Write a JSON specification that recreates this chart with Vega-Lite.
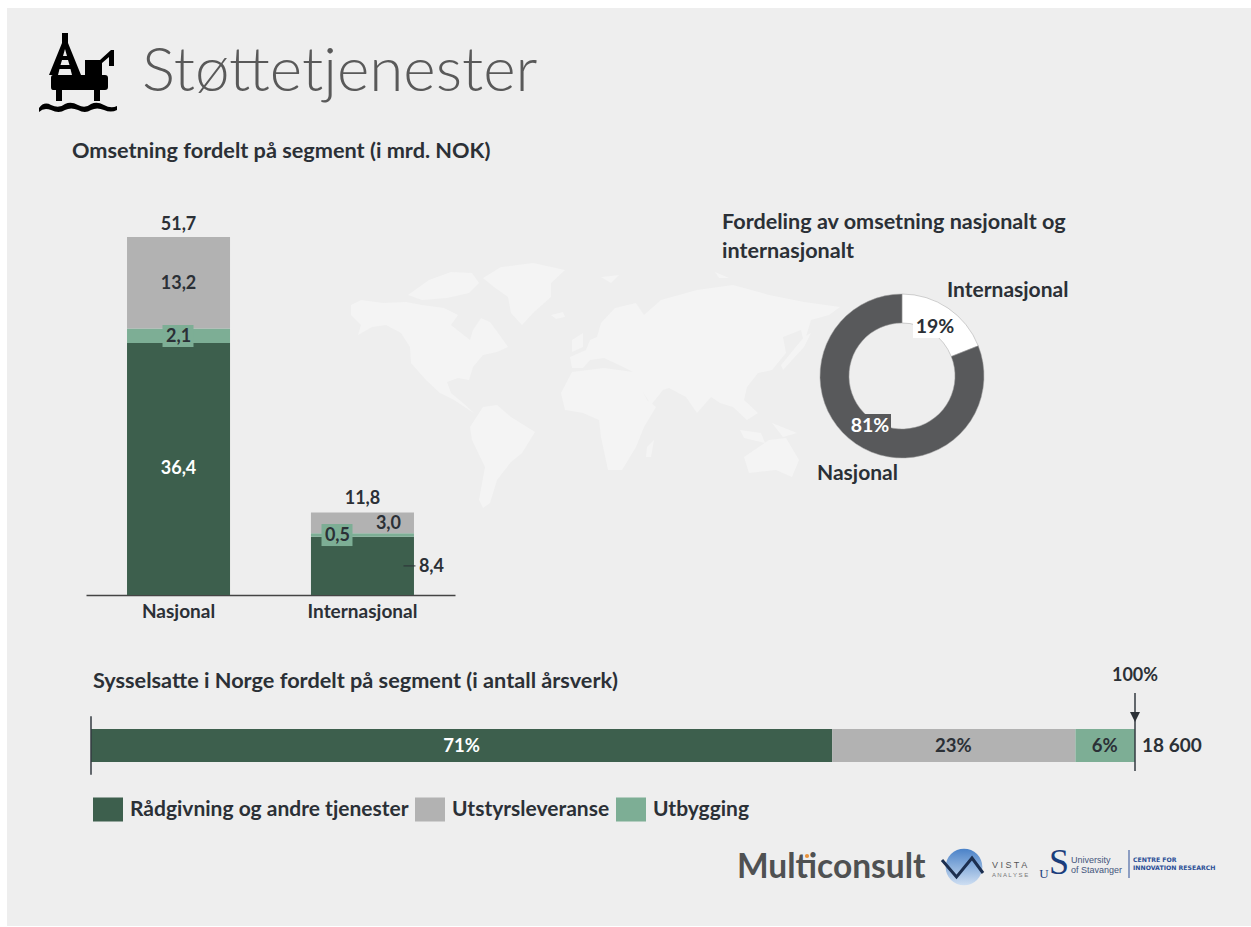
{
"$schema":"https://vega.github.io/schema/vega-lite/v6.json",
"width":1244,"height":918,
"autosize":{"type":"none"},
"padding":{"left":7,"top":8,"right":0,"bottom":1},
"background":"#ffffff",
"config":{"view":{"fill":"#eeeeee","stroke":null},"text":{"font":"Lato","fontWeight":"bold","fontSize":18,"fill":"#2b3036","baseline":"middle"},"point":{"opacity":1,"filled":true,"strokeWidth":0}},
"resolve":{"scale":{"x":"independent","y":"independent","theta":"independent","fill":"independent"}},
"layer":[
{"data":{"values":[{"name":"Verdenskart"}]},
 "mark":{"type":"point","filled":true,"opacity":1,"size":4,"color":"#f4f4f4","shape":"M11,65L21,60L43,63L66,62L82,65L104,68L118,75L111,85L121,93L130,100L133,90L141,78L150,82L161,97L168,107L157,112L143,115L133,127L129,140L118,138L107,142L111,153L123,163L134,173L129,170L114,160L100,153L86,140L71,123L70,107L61,93L46,85L32,87L18,95L21,85L11,75ZM68,55L89,40L111,32L132,33L139,43L129,53L107,58L82,60ZM143,38L161,27L193,23L225,30L211,43L211,57L193,73L182,85L171,73L168,57L154,47ZM211,75L223,72L225,77L216,79ZM130,187L143,167L157,165L171,177L195,192L182,213L171,222L157,240L150,263L143,268L139,260L145,227L132,200ZM232,128L230,117L246,110L250,100L257,97L261,83L275,68L296,63L304,75L321,60L357,50L393,45L429,55L464,62L500,67L489,75L471,80L464,103L461,90L443,97L446,113L432,130L418,133L407,147L404,160L418,173L407,180L393,167L380,163L371,157L357,173L346,157L329,148L323,150L311,165L300,147L293,132L279,125L264,118L250,120L243,128ZM221,153L232,132L264,128L293,132L307,160L316,167L304,187L296,207L282,230L268,230L261,197L259,180L243,173L225,170ZM307,207L314,200L311,217L306,217ZM404,217L429,200L446,198L459,220L452,237L436,230L409,233ZM400,190L421,193L425,203L404,198ZM432,183L457,193L443,197ZM464,97L471,93L464,107L443,130L441,125ZM232,100L243,93L243,107L232,112ZM261,37L279,35L271,43ZM375,32L389,38L379,38Z"},
 "encoding":{"x":{"field":"name","type":"nominal","axis":null,"scale":{"type":"point","range":[333,333]}},"y":{"field":"name","type":"nominal","axis":null,"scale":{"type":"point","range":[232,232]}}}},
{"data":{"values":[{"name":"Plattform"}]},
 "mark":{"type":"point","filled":true,"opacity":1,"size":4,"color":"#000000","shape":"M62,33H68V43L81,75H72L70.5,69H59.5L58,75H49L62,43ZM65,49L63,56H67ZM62,60L60.5,65H69.5L68,60ZM85,60H100L111,50H114V66H109V57L102,63V75H85ZM53,75H105Q108,75 108,78V87Q108,90 105,90H53Q51,90 51,87V78Q51,75 53,75ZM56,90H62V101H56ZM94,90H100V101H94ZM39,108Q44,101 51,105Q59,109 65,104Q71,101 78,105Q85,109 91,104Q97,101 104,105Q111,109 117,106V110Q111,113 104,110Q97,107 91,110Q85,114 78,110Q71,107 65,110Q59,114 51,110Q44,107 39,112Z"},
 "encoding":{"x":{"field":"name","type":"nominal","axis":null,"scale":{"type":"point","range":[-7,-7]}},"y":{"field":"name","type":"nominal","axis":null,"scale":{"type":"point","range":[-8,-8]}}}},
{"data":{"values":[{"label":"Støttetjenester"}]},
 "mark":{"type":"text","fontSize":62,"fontWeight":300,"fill":"#595959","align":"left"},
 "encoding":{"text":{"field":"label"},"x":{"field":"label","type":"nominal","axis":null,"scale":{"type":"point","range":[135,135]}},"y":{"field":"label","type":"nominal","axis":null,"scale":{"type":"point","range":[64,64]}}}},
{"data":{"values":[{"label":"Omsetning fordelt på segment (i mrd. NOK)"}]},
 "mark":{"type":"text","fontSize":21.7,"align":"left"},
 "encoding":{"text":{"field":"label"},"x":{"field":"label","type":"nominal","axis":null,"scale":{"type":"point","range":[65,65]}},"y":{"field":"label","type":"nominal","axis":null,"scale":{"type":"point","range":[143,143]}}}},
{"data":{"values":[{"group":"Nasjonal","segment":"Rådgivning og andre tjenester","value":36.4,"rank":1},{"group":"Nasjonal","segment":"Utbygging","value":2.1,"rank":2},{"group":"Nasjonal","segment":"Utstyrsleveranse","value":13.2,"rank":3},{"group":"Internasjonal","segment":"Rådgivning og andre tjenester","value":8.4,"rank":1},{"group":"Internasjonal","segment":"Utbygging","value":0.5,"rank":2},{"group":"Internasjonal","segment":"Utstyrsleveranse","value":3.0,"rank":3}]},
 "mark":{"type":"bar"},
 "encoding":{
  "x":{"field":"group","type":"nominal","sort":null,"scale":{"type":"band","domain":["Nasjonal","Internasjonal"],"range":[79,448],"paddingInner":0.44,"paddingOuter":0.223},"axis":{"title":null,"orient":"bottom","offset":-331,"ticks":false,"grid":false,"domainColor":"#444444","domainWidth":1.5,"labelAngle":0,"labelFont":"Lato","labelFontWeight":"bold","labelFontSize":19,"labelColor":"#2b3036","labelPadding":7}},
  "y":{"field":"value","type":"quantitative","stack":"zero","axis":null,"scale":{"domain":[0,51.7],"range":[587,229],"nice":false}},
  "order":{"field":"rank","type":"quantitative"},
  "color":{"field":"segment","type":"nominal","scale":{"domain":["Rådgivning og andre tjenester","Utstyrsleveranse","Utbygging"],"range":["#3d5f4d","#b2b2b2","#7dae95"]},
   "legend":{"title":null,"orient":"none","legendX":86,"legendY":786.5,"direction":"horizontal","columns":3,"symbolType":"M-1,-0.8H1V0.8H-1Z","symbolSize":900,"symbolStrokeWidth":0,"labelFont":"Lato","labelFontSize":21,"labelFontWeight":"bold","labelColor":"#2b3036","labelOffset":7,"columnPadding":6,"labelLimit":400,"padding":0}}}},
{"data":{"values":[{"group":"Nasjonal","pos":37.4},{"group":"Internasjonal","pos":8.66}]},
 "mark":{"type":"point","filled":true,"opacity":1,"size":4,"color":"#7dae95","shape":"M-15.5,-11H15.5V11H-15.5Z"},
 "encoding":{
  "x":{"field":"group","type":"nominal","axis":null,"scale":{"type":"point","domain":["Nasjonal","Internasjonal"],"range":[171,330],"padding":0}},
  "y":{"field":"pos","type":"quantitative","axis":null,"scale":{"domain":[0,51.7],"range":[587,229],"nice":false}}}},
{"data":{"values":[{"group":"Nasjonal","label":"51,7","pos":53.4},{"group":"Nasjonal","label":"13,2","pos":44.9},{"group":"Nasjonal","label":"2,1","pos":37.26},{"group":"Internasjonal","label":"11,8","pos":13.86}]},
 "mark":{"type":"text"},
 "encoding":{"text":{"field":"label"},
  "x":{"field":"group","type":"nominal","axis":null,"scale":{"type":"band","domain":["Nasjonal","Internasjonal"],"range":[79,448],"paddingInner":0.44,"paddingOuter":0.223}},
  "y":{"field":"pos","type":"quantitative","axis":null,"scale":{"domain":[0,51.7],"range":[587,229],"nice":false}}}},
{"data":{"values":[{"group":"Nasjonal","label":"36,4","pos":18.2}]},
 "mark":{"type":"text","fill":"#ffffff"},
 "encoding":{"text":{"field":"label"},
  "x":{"field":"group","type":"nominal","axis":null,"scale":{"type":"band","domain":["Nasjonal","Internasjonal"],"range":[79,448],"paddingInner":0.44,"paddingOuter":0.223}},
  "y":{"field":"pos","type":"quantitative","axis":null,"scale":{"domain":[0,51.7],"range":[587,229],"nice":false}}}},
{"data":{"values":[{"group":"Internasjonal","label":"3,0","pos":10.2}]},
 "mark":{"type":"text","dx":26},
 "encoding":{"text":{"field":"label"},
  "x":{"field":"group","type":"nominal","axis":null,"scale":{"type":"band","domain":["Nasjonal","Internasjonal"],"range":[79,448],"paddingInner":0.44,"paddingOuter":0.223}},
  "y":{"field":"pos","type":"quantitative","axis":null,"scale":{"domain":[0,51.7],"range":[587,229],"nice":false}}}},
{"data":{"values":[{"group":"Internasjonal","label":"0,5","pos":8.52}]},
 "mark":{"type":"text","dx":-25},
 "encoding":{"text":{"field":"label"},
  "x":{"field":"group","type":"nominal","axis":null,"scale":{"type":"band","domain":["Nasjonal","Internasjonal"],"range":[79,448],"paddingInner":0.44,"paddingOuter":0.223}},
  "y":{"field":"pos","type":"quantitative","axis":null,"scale":{"domain":[0,51.7],"range":[587,229],"nice":false}}}},
{"data":{"values":[{"group":"Internasjonal","label":"8,4","pos":4.05}]},
 "mark":{"type":"text","dx":69},
 "encoding":{"text":{"field":"label"},
  "x":{"field":"group","type":"nominal","axis":null,"scale":{"type":"band","domain":["Nasjonal","Internasjonal"],"range":[79,448],"paddingInner":0.44,"paddingOuter":0.223}},
  "y":{"field":"pos","type":"quantitative","axis":null,"scale":{"domain":[0,51.7],"range":[587,229],"nice":false}}}},
{"data":{"values":[{"group":"Internasjonal","pos":4.2}]},
 "mark":{"type":"tick","orient":"horizontal","size":12,"thickness":1,"xOffset":47,"color":"#2b3036","opacity":1},
 "encoding":{
  "x":{"field":"group","type":"nominal","axis":null,"scale":{"type":"band","domain":["Nasjonal","Internasjonal"],"range":[79,448],"paddingInner":0.44,"paddingOuter":0.223}},
  "y":{"field":"pos","type":"quantitative","axis":null,"scale":{"domain":[0,51.7],"range":[587,229],"nice":false}}}},
{"data":{"values":[{"label":"Fordeling av omsetning nasjonalt og"},{"label":"internasjonalt"}]},
 "mark":{"type":"text","fontSize":21.6,"align":"left"},
 "encoding":{"text":{"field":"label"},"x":{"field":"label","type":"nominal","sort":null,"axis":null,"scale":{"type":"point","range":[715,715],"padding":0}},"y":{"field":"label","type":"nominal","sort":null,"axis":null,"scale":{"type":"point","domain":["Fordeling av omsetning nasjonalt og","internasjonalt"],"range":[214.5,243.5],"padding":0}}}},
{"data":{"values":[{"chart":"Fordeling","segment":"Internasjonal","share":19,"rank":1},{"chart":"Fordeling","segment":"Nasjonal","share":81,"rank":2}]},
 "mark":{"type":"arc","radius":82,"radius2":53,"stroke":"#a0a0a0","strokeWidth":0.5},
 "encoding":{
  "theta":{"field":"share","type":"quantitative","stack":"zero"},
  "order":{"field":"rank","type":"quantitative"},
  "fill":{"field":"segment","type":"nominal","legend":null,"scale":{"domain":["Internasjonal","Nasjonal"],"range":["#ffffff","#58595b"]}},
  "x":{"field":"chart","type":"nominal","axis":null,"scale":{"type":"point","range":[895,895]}},
  "y":{"field":"chart","type":"nominal","axis":null,"scale":{"type":"point","range":[368,368]}}}},
{"data":{"values":[{"label":"19%"},{"label":"81%"}]},
 "mark":{"type":"point","filled":true,"opacity":1,"size":4,"shape":"M-20,-10H20V10H-20Z"},
 "encoding":{
  "fill":{"field":"label","type":"nominal","legend":null,"scale":{"domain":["19%","81%"],"range":["#ffffff","#58595b"]}},
  "x":{"field":"label","type":"nominal","axis":null,"scale":{"type":"point","domain":["19%","81%"],"range":[926,864],"padding":0}},
  "y":{"field":"label","type":"nominal","axis":null,"scale":{"type":"point","domain":["19%","81%"],"range":[320,416],"padding":0}}}},
{"data":{"values":[{"label":"19%"},{"label":"81%"}]},
 "mark":{"type":"text","fontSize":19.5},
 "encoding":{"text":{"field":"label"},
  "fill":{"field":"label","type":"nominal","legend":null,"scale":{"domain":["19%","81%"],"range":["#2b3036","#ffffff"]}},
  "x":{"field":"label","type":"nominal","axis":null,"scale":{"type":"point","domain":["19%","81%"],"range":[928,863],"padding":0}},
  "y":{"field":"label","type":"nominal","axis":null,"scale":{"type":"point","domain":["19%","81%"],"range":[319,418],"padding":0}}}},
{"data":{"values":[{"label":"Internasjonal"}]},
 "mark":{"type":"text","fontSize":21,"align":"left"},
 "encoding":{"text":{"field":"label"},"x":{"field":"label","type":"nominal","axis":null,"scale":{"type":"point","range":[940,940]}},"y":{"field":"label","type":"nominal","axis":null,"scale":{"type":"point","range":[283,283]}}}},
{"data":{"values":[{"label":"Nasjonal"}]},
 "mark":{"type":"text","fontSize":21,"align":"left"},
 "encoding":{"text":{"field":"label"},"x":{"field":"label","type":"nominal","axis":null,"scale":{"type":"point","range":[810,810]}},"y":{"field":"label","type":"nominal","axis":null,"scale":{"type":"point","range":[466,466]}}}},
{"data":{"values":[{"label":"Sysselsatte i Norge fordelt på segment (i antall årsverk)"}]},
 "mark":{"type":"text","fontSize":21.7,"align":"left"},
 "encoding":{"text":{"field":"label"},"x":{"field":"label","type":"nominal","axis":null,"scale":{"type":"point","range":[86,86]}},"y":{"field":"label","type":"nominal","axis":null,"scale":{"type":"point","range":[672.5,672.5]}}}},
{"data":{"values":[{"row":"Sysselsatte","segment":"Rådgivning og andre tjenester","value":71,"rank":1},{"row":"Sysselsatte","segment":"Utstyrsleveranse","value":23.3,"rank":2},{"row":"Sysselsatte","segment":"Utbygging","value":5.7,"rank":3}]},
 "mark":{"type":"bar"},
 "encoding":{
  "x":{"field":"value","type":"quantitative","stack":"zero","axis":null,"scale":{"domain":[0,100],"range":[84,1128],"nice":false}},
  "y":{"field":"row","type":"nominal","axis":null,"scale":{"type":"band","range":[721,754],"paddingInner":0,"paddingOuter":0}},
  "order":{"field":"rank","type":"quantitative"},
  "color":{"field":"segment","type":"nominal","scale":{"domain":["Rådgivning og andre tjenester","Utstyrsleveranse","Utbygging"],"range":["#3d5f4d","#b2b2b2","#7dae95"]},
   "legend":{"title":null,"orient":"none","legendX":86,"legendY":786.5,"direction":"horizontal","columns":3,"symbolType":"M-1,-0.8H1V0.8H-1Z","symbolSize":900,"symbolStrokeWidth":0,"labelFont":"Lato","labelFontSize":21,"labelFontWeight":"bold","labelColor":"#2b3036","labelOffset":7,"columnPadding":6,"labelLimit":400,"padding":0}}}},
{"data":{"values":[{"label":"23%","pos":82.6},{"label":"6%","pos":97.1}]},
 "mark":{"type":"text","fontSize":18.5},
 "encoding":{"text":{"field":"label"},
  "x":{"field":"pos","type":"quantitative","axis":null,"scale":{"domain":[0,100],"range":[84,1128],"nice":false}},
  "y":{"datum":0.5,"type":"quantitative","axis":null,"scale":{"domain":[0,1],"range":[754,721],"nice":false}}}},
{"data":{"values":[{"label":"71%","pos":35.5}]},
 "mark":{"type":"text","fill":"#ffffff","fontSize":18.5},
 "encoding":{"text":{"field":"label"},
  "x":{"field":"pos","type":"quantitative","axis":null,"scale":{"domain":[0,100],"range":[84,1128],"nice":false}},
  "y":{"datum":0.5,"type":"quantitative","axis":null,"scale":{"domain":[0,1],"range":[754,721],"nice":false}}}},
{"data":{"values":[{"at":0,"from":-0.39,"to":1.39},{"at":100,"from":-0.27,"to":2.09}]},
 "mark":{"type":"rule","color":"#333a40","strokeWidth":1.5},
 "encoding":{
  "x":{"field":"at","type":"quantitative","axis":null,"scale":{"domain":[0,100],"range":[84,1128],"nice":false}},
  "y":{"field":"from","type":"quantitative","axis":null,"scale":{"domain":[0,1],"range":[754,721],"nice":false,"zero":false}},
  "y2":{"field":"to"}}},
{"data":{"values":[{"at":100,"level":1.36}]},
 "mark":{"type":"point","filled":true,"opacity":1,"size":4,"color":"#2b3036","shape":"M-5,-5H5L0,5Z"},
 "encoding":{
  "x":{"field":"at","type":"quantitative","axis":null,"scale":{"domain":[0,100],"range":[84,1128],"nice":false}},
  "y":{"field":"level","type":"quantitative","axis":null,"scale":{"domain":[0,1],"range":[754,721],"nice":false,"zero":false}}}},
{"data":{"values":[{"label":"100%","at":100,"level":2.61}]},
 "mark":{"type":"text"},
 "encoding":{"text":{"field":"label"},
  "x":{"field":"at","type":"quantitative","axis":null,"scale":{"domain":[0,100],"range":[84,1128],"nice":false}},
  "y":{"field":"level","type":"quantitative","axis":null,"scale":{"domain":[0,1],"range":[754,721],"nice":false,"zero":false}}}},
{"data":{"values":[{"label":"18 600","at":100,"level":0.5}]},
 "mark":{"type":"text","align":"left","dx":7,"fontSize":19},
 "encoding":{"text":{"field":"label"},
  "x":{"field":"at","type":"quantitative","axis":null,"scale":{"domain":[0,100],"range":[84,1128],"nice":false}},
  "y":{"field":"level","type":"quantitative","axis":null,"scale":{"domain":[0,1],"range":[754,721],"nice":false,"zero":false}}}},
{"data":{"values":[{"label":"Multiconsult"}]},
 "mark":{"type":"text","fontSize":33.5,"fontWeight":"bold","fill":"#4f5152","align":"left"},
 "encoding":{"text":{"field":"label"},"x":{"field":"label","type":"nominal","axis":null,"scale":{"type":"point","range":[730,730]}},"y":{"field":"label","type":"nominal","axis":null,"scale":{"type":"point","range":[860,860]}}}},
{"data":{"values":[{"name":"Multiconsult-prikk"}]},
 "mark":{"type":"point","filled":true,"opacity":1,"size":18,"shape":"circle","color":"#e8913a"},
 "encoding":{"x":{"field":"name","type":"nominal","axis":null,"scale":{"type":"point","range":[800,800]}},"y":{"field":"name","type":"nominal","axis":null,"scale":{"type":"point","range":[848,848]}}}},
{"data":{"values":[{"name":"Vista-sirkel"}]},
 "mark":{"type":"point","filled":true,"opacity":1,"size":1350,"shape":"circle","fill":{"gradient":"linear","x1":0,"y1":0,"x2":0,"y2":1,"stops":[{"offset":0,"color":"#4a82c8"},{"offset":1,"color":"#cfdff2"}]}},
 "encoding":{"x":{"field":"name","type":"nominal","axis":null,"scale":{"type":"point","range":[957,957]}},"y":{"field":"name","type":"nominal","axis":null,"scale":{"type":"point","range":[859,859]}}}},
{"data":{"values":[{"name":"Vista-VA"}]},
 "mark":{"type":"point","filled":false,"opacity":1,"size":4,"stroke":"#1c2f4f","strokeWidth":3,"shape":"M942,860L956.5,877L972,858L983,873"},
 "encoding":{"x":{"field":"name","type":"nominal","axis":null,"scale":{"type":"point","range":[-7,-7]}},"y":{"field":"name","type":"nominal","axis":null,"scale":{"type":"point","range":[-8,-8]}}}},
{"data":{"values":[{"label":"V I S T A"}]},
 "mark":{"type":"text","fontSize":9,"font":"Liberation Sans","fontWeight":"normal","fill":"#555555","align":"left"},
 "encoding":{"text":{"field":"label"},"x":{"field":"label","type":"nominal","axis":null,"scale":{"type":"point","range":[985,985]}},"y":{"field":"label","type":"nominal","axis":null,"scale":{"type":"point","range":[857,857]}}}},
{"data":{"values":[{"label":"A N A L Y S E"}]},
 "mark":{"type":"text","fontSize":6,"font":"Liberation Sans","fontWeight":"normal","fill":"#777777","align":"left"},
 "encoding":{"text":{"field":"label"},"x":{"field":"label","type":"nominal","axis":null,"scale":{"type":"point","range":[985,985]}},"y":{"field":"label","type":"nominal","axis":null,"scale":{"type":"point","range":[867,867]}}}},
{"data":{"values":[{"label":"S"}]},
 "mark":{"type":"text","fontSize":36,"font":"Liberation Serif","fontWeight":"normal","fill":"#1b3d7c"},
 "encoding":{"text":{"field":"label"},"x":{"field":"label","type":"nominal","axis":null,"scale":{"type":"point","range":[1052,1052]}},"y":{"field":"label","type":"nominal","axis":null,"scale":{"type":"point","range":[855,855]}}}},
{"data":{"values":[{"label":"U"}]},
 "mark":{"type":"text","fontSize":13,"font":"Liberation Serif","fontWeight":"normal","fill":"#1b3d7c"},
 "encoding":{"text":{"field":"label"},"x":{"field":"label","type":"nominal","axis":null,"scale":{"type":"point","range":[1037,1037]}},"y":{"field":"label","type":"nominal","axis":null,"scale":{"type":"point","range":[866,866]}}}},
{"data":{"values":[{"label":"University"},{"label":"of Stavanger"}]},
 "mark":{"type":"text","fontSize":9,"font":"Liberation Sans","fontWeight":"normal","fill":"#44557c","align":"left"},
 "encoding":{"text":{"field":"label"},"x":{"field":"label","type":"nominal","axis":null,"scale":{"type":"point","range":[1064,1064]}},"y":{"field":"label","type":"nominal","axis":null,"scale":{"type":"point","domain":["University","of Stavanger"],"range":[852,861.5],"padding":0}}}},
{"data":{"values":[{"name":"Skille","from":0,"to":1}]},
 "mark":{"type":"rule","color":"#2c4f97","strokeWidth":1},
 "encoding":{"x":{"field":"name","type":"nominal","axis":null,"scale":{"type":"point","range":[1122,1122]}},"y":{"field":"from","type":"quantitative","axis":null,"scale":{"domain":[0,1],"range":[870,842],"nice":false}},"y2":{"field":"to"}}},
{"data":{"values":[{"label":"CENTRE FOR"},{"label":"INNOVATION RESEARCH"}]},
 "mark":{"type":"text","fontSize":6.2,"font":"DejaVu Sans","fontWeight":"bold","fill":"#2c4f97","align":"left"},
 "encoding":{"text":{"field":"label"},"x":{"field":"label","type":"nominal","axis":null,"scale":{"type":"point","range":[1126,1126]}},"y":{"field":"label","type":"nominal","axis":null,"scale":{"type":"point","domain":["CENTRE FOR","INNOVATION RESEARCH"],"range":[852,860],"padding":0}}}}
]
}
